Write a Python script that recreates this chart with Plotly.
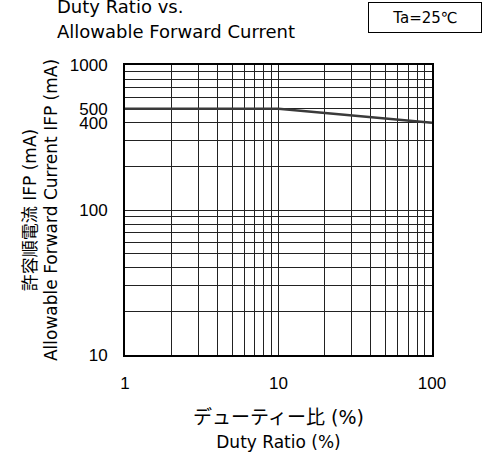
import plotly.graph_objects as go

# curve: duty ratio (%) vs allowable forward current (mA)
duty = [1, 10, 100]
ifp = [500, 500, 400]

x_ticks = [1, 10, 100]
y_ticks = [10, 100, 400, 500, 1000]
x_minor = [2, 3, 4, 5, 6, 7, 8, 9, 20, 30, 40, 50, 60, 70, 80, 90]
y_minor = [20, 30, 40, 50, 60, 70, 80, 90, 200, 300, 600, 700, 800, 900]

fam = "DejaVu Sans, Noto Sans CJK JP, sans-serif"
tick_fam = "Liberation Sans, Noto Sans CJK JP, sans-serif"
grid_c = "#222222"

fig = go.Figure()
fig.add_trace(go.Scatter(
    x=duty, y=ifp, mode="lines",
    line=dict(color="#3a3a3a", width=2.5),
    showlegend=False, hoverinfo="skip",
))

axis_common = dict(
    type="log", automargin=False,
    showline=True, mirror=True, linecolor="black", linewidth=2,
    showgrid=True, gridcolor=grid_c, gridwidth=1,
    ticks="", zeroline=False,
    tickfont=dict(family=tick_fam, size=17, color="black"),
    ticklabelstandoff=12,
)

fig.update_xaxes(
    **axis_common,
    range=[0, 2],
    tickvals=x_ticks, ticktext=[str(v) for v in x_ticks],
    minor=dict(tickvals=x_minor, showgrid=True, gridcolor=grid_c, gridwidth=1, ticks=""),
    title=dict(
        text="<span style='font-size:19px'>デューティー比 (%)</span><br>"
             "<span style='font-size:17px'>Duty Ratio (%)</span>",
        font=dict(family=fam, size=19, color="black"),
        standoff=18,
    ),
)
fig.update_yaxes(
    **axis_common,
    range=[1, 3],
    tickvals=y_ticks, ticktext=[str(v) for v in y_ticks],
    minor=dict(tickvals=y_minor, showgrid=True, gridcolor=grid_c, gridwidth=1, ticks=""),
    title=dict(
        text="<span style='font-size:17px'>許容順電流 IFP (mA)</span><br>"
             "<span style='font-size:17px'>Allowable Forward Current IFP (mA)</span>",
        font=dict(family=fam, size=16, color="black"),
        standoff=8,
    ),
)

title_lines = ["Duty Ratio vs.", "Allowable Forward Current"]
for line, ypos in zip(title_lines, [1.203, 1.117]):
    fig.add_annotation(
        text=line,
        xref="paper", yref="paper", x=-0.228, y=ypos,
        xanchor="left", yanchor="middle", align="left",
        showarrow=False, font=dict(family=fam, size=18, color="black"),
    )
fig.add_annotation(
    text="Ta=25℃",
    xref="paper", yref="paper", x=0.977, y=1.163,
    xanchor="center", yanchor="middle",
    width=110, height=27,
    bordercolor="black", borderwidth=1, borderpad=1,
    showarrow=False, font=dict(family=fam, size=15, color="black"),
)

fig.update_layout(
    width=484, height=454,
    margin=dict(l=125, r=52, t=65, b=99),
    paper_bgcolor="white", plot_bgcolor="white",
    font=dict(family=fam, color="black"),
)

# page body margin would shift the figure by a few pixels
fig.write_html(
    "out.html",
    config={"displayModeBar": False},
    post_script="document.body.style.margin='0';",
)
